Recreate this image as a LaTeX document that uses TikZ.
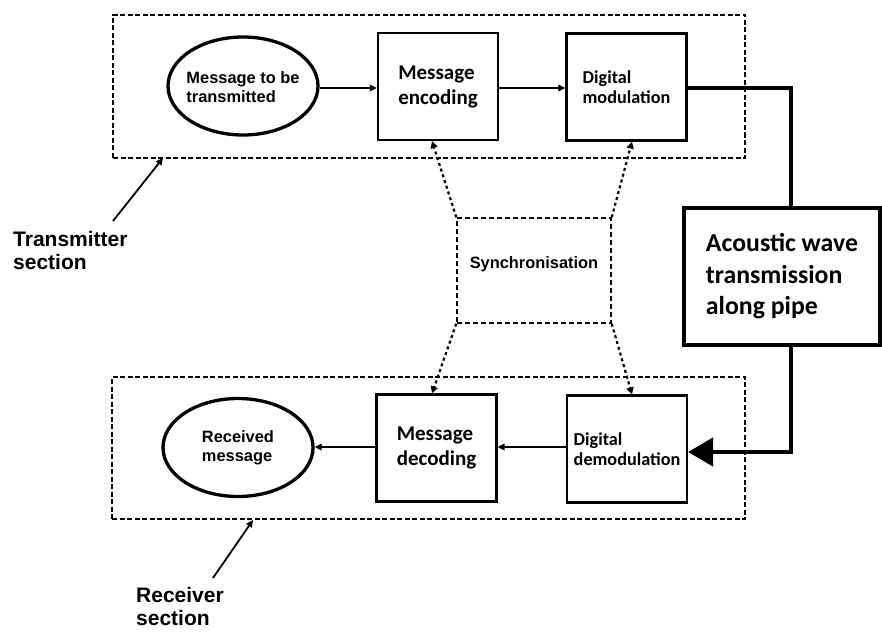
\documentclass[tikz,border=0pt]{standalone}
\usepackage{fontspec}
\setmainfont{Carlito}
\newfontfamily\arialf{Liberation Sans}
\usetikzlibrary{arrows.meta,shapes.geometric}
\begin{document}
\begin{tikzpicture}[x=1pt,y=-1pt,
  blockbox/.style={draw,line width=2.2pt,minimum width=120pt,minimum height=107pt,inner sep=0pt,align=left},
  bigtext/.style={font=\bfseries\fontsize{21}{25}\selectfont},
  midtext/.style={font=\bfseries\fontsize{18.2}{20}\selectfont},
  ellbox/.style={draw,ellipse,line width=3.3pt,minimum width=150pt,minimum height=98pt,inner sep=0pt},
  elltext/.style={font=\arialf\bfseries\fontsize{16.4}{19.5}\selectfont,align=left,inner sep=0pt},
  secbox/.style={draw,line width=1.8pt,dash pattern=on 5pt off 2.5pt,inner sep=0pt},
  syncbox/.style={draw,line width=1.5pt,dash pattern=on 5pt off 3pt,inner sep=0pt},
  flow/.style={line width=1.8pt,-{Triangle[length=7pt,width=6.5pt]}},
  syncarrow/.style={line width=2.2pt,dash pattern=on 3pt off 3pt,-{Triangle[length=7pt,width=7pt]}},
  thickline/.style={line width=4.8pt},
  labtext/.style={font=\arialf\bfseries\fontsize{21}{23.5}\selectfont,align=left,inner sep=0pt},
]
\useasboundingbox (0,0) rectangle (882,631);
\fill[white] (0,0) rectangle (882,631);

% section frames
\node[secbox,minimum width=632pt,minimum height=143pt] (tx) at (429,86.5) {};
\node[secbox,minimum width=633pt,minimum height=142pt] (rx) at (428.5,448) {};

% transmitter blocks
\node[ellbox] (msg) at (243,86) {};
\node[elltext] (msgtxt) at (243,87) {Message to be\\transmitted};
\node[blockbox,bigtext] (enc) at (438,86.5) {Message\\encoding};
\node[blockbox,midtext] (mod) at (626.5,87) {Digital\\modulation};

% receiver blocks
\node[ellbox] (rec) at (238,447.5) {};
\node[elltext] (rectxt) at (238,448) {Received\\message};
\node[blockbox,bigtext] (dec) at (436.5,448) {Message\\decoding};
\node[blockbox,midtext] (demod) at (627,449) {Digital\\demodulation};

% synchronisation
\node[syncbox,minimum width=154pt,minimum height=105pt] (sync) at (534,270.5) {};
\node[font=\arialf\bfseries\fontsize{16.4}{19}\selectfont,inner sep=0pt] (synctxt) at (534,264) {Synchronisation};

% acoustic channel
\node[draw,line width=4.8pt,minimum width=196pt,minimum height=137pt,inner sep=0pt,align=left,
      font=\bfseries\fontsize{25.8}{31.5}\selectfont] (ac) at (782,276.5) {Acoustic wave\\transmission\\along pipe};

% flows
\draw[flow] (msg.east |- 0,88) -- (enc.west |- 0,88);
\draw[flow] (enc.east |- 0,88) -- (mod.west |- 0,88);
\draw[flow] (demod.west |- 0,447) -- (dec.east |- 0,447);
\draw[flow] (dec.west |- 0,447) -- (rec.east |- 0,447);

% thick channel path
\coordinate (t1) at (791,88);
\coordinate (t2) at (791,452);
\draw[thickline] (mod.east |- t1) -- (t1) -- (t1 |- ac.north);
\draw[thickline,-{Triangle[length=25pt,width=28pt]}] (t2 |- ac.south) -- (t2) -- (t2 -| demod.east);

% synchronisation arrows
\draw[syncarrow] (sync.north west) -- ([xshift=-6pt]enc.south);
\draw[syncarrow] (sync.north east) -- ([xshift=5.5pt]mod.south);
\draw[syncarrow] (sync.south west) -- ([xshift=-4.5pt]dec.north);
\draw[syncarrow] (sync.south east) -- ([xshift=5pt]demod.north);

% section labels
\node[labtext,anchor=north west] (txlab) at (13,231) {Transmitter\\section};
\node[labtext,anchor=north west] (rxlab) at (136,587) {Receiver\\section};
\coordinate (txtail) at (113,221);
\coordinate (txhead) at (163,158);
\coordinate (rxtail) at (213,578);
\coordinate (rxhead) at (253,520);
\draw[flow] (txtail) -- (txhead);
\draw[flow] (rxtail) -- (rxhead);
\end{tikzpicture}
\end{document}
